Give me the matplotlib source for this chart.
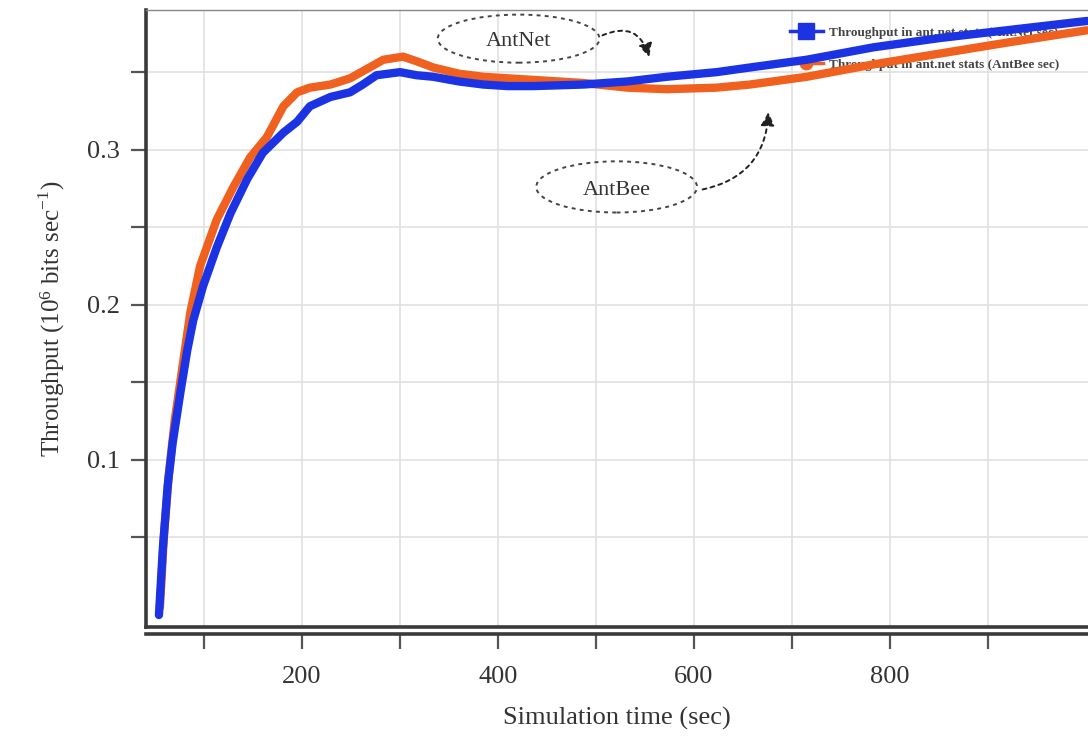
import matplotlib
matplotlib.use("Agg")
import matplotlib.pyplot as plt
from matplotlib.patches import Ellipse
from matplotlib.lines import Line2D

plt.rcParams["font.family"] = ["Liberation Serif", "DejaVu Serif"]

# values (time in sec, throughput in 10^6 bits/sec)
t_antnet = [54, 58, 63, 68, 76, 83, 89, 99, 113, 127, 144, 160, 181, 195, 208, 229,
            249, 262, 276, 300, 317, 334, 360, 385, 410, 436, 487, 532, 572, 623, 657,
            715, 783, 851, 919, 1001]
antnet = [0.0, 0.043, 0.084, 0.111, 0.144, 0.171, 0.190, 0.212, 0.237, 0.259, 0.281,
          0.298, 0.311, 0.318, 0.328, 0.334, 0.337, 0.342, 0.348, 0.350, 0.348, 0.347,
          0.344, 0.342, 0.341, 0.341, 0.342, 0.344, 0.347, 0.350, 0.353, 0.358, 0.366,
          0.372, 0.377, 0.383]

t_antbee = [55, 59, 64, 70, 78, 86, 96, 113, 130, 147, 164, 181, 195, 208, 229, 249,
            266, 283, 303, 317, 334, 360, 385, 436, 487, 532, 572, 623, 657, 715, 783,
            851, 919, 1001]
antbee = [0.005, 0.05, 0.09, 0.125, 0.16, 0.195, 0.225, 0.255, 0.276, 0.295, 0.308,
          0.328, 0.337, 0.340, 0.342, 0.346, 0.352, 0.358, 0.360, 0.357, 0.353, 0.349,
          0.347, 0.345, 0.343, 0.340, 0.339, 0.340, 0.342, 0.347, 0.355, 0.362, 0.369,
          0.377]

legend_labels = ["Throughput in ant.net stats (AntNet sec)",
                 "Throughput in ant.net stats (AntBee sec)"]

x_major = [200, 400, 600, 800]
x_minor = [100, 300, 500, 700, 900]
y_major = [0.1, 0.2, 0.3]
y_minor = [0.05, 0.15, 0.25, 0.35]

BLUE = "#1c33e4"
ORANGE = "#f0601e"
INK = "#333333"

fig = plt.figure(figsize=(10.88, 7.37), dpi=100)
ax = fig.add_axes([0.1342, 0.1493, 0.8658, 0.837])

ax.plot(t_antbee, antbee, color=ORANGE, lw=6, solid_capstyle="round",
        solid_joinstyle="round", zorder=3)
ax.plot(t_antnet, antnet, color=BLUE, lw=6, solid_capstyle="round",
        solid_joinstyle="round", zorder=4)

ax.set_xlim(40.8, 1002)
ax.set_ylim(-0.0077, 0.390)

ax.set_xticks(x_major)
ax.set_xticks(x_minor, minor=True)
ax.set_yticks(y_major)
ax.set_yticks(y_minor, minor=True)
ax.set_yticklabels(["0.1", "0.2", "0.3"])
ax.grid(True, which="both", color="#e0e0e0", lw=1.2, zorder=0)

ax.tick_params(axis="both", which="both", direction="out", length=11, width=1.6,
               color="#555555", labelsize=19, labelcolor=INK)
ax.tick_params(axis="x", which="both", pad=12)
ax.tick_params(axis="y", which="both", pad=8)

for s in ["left", "bottom"]:
    ax.spines[s].set_linewidth(2.6)
    ax.spines[s].set_color("#3a3a3a")
ax.spines["bottom"].set_position(("outward", 5))
ax.spines["right"].set_visible(False)
ax.spines["top"].set_color("#888888")
ax.spines["top"].set_linewidth(1.0)
# inner frame line of the plot box
ax.add_line(Line2D([0, 1], [0, 0], transform=ax.transAxes, color="#3a3a3a",
                   lw=2.6, clip_on=False, zorder=5))

ax.set_xlabel("Simulation time (sec)", fontsize=19, color=INK, labelpad=14)
ax.set_ylabel("Throughput ($\\mathregular{10^6}$ bits sec$^{\\mathregular{-1}}$)",
              fontsize=18, color=INK, labelpad=14)

# legend at the top right, no frame, sits under the curves
handles = [Line2D([], [], color=BLUE, lw=2.5, marker="s", markersize=11),
           Line2D([], [], color=ORANGE, lw=2.5, marker="o", markersize=9)]
leg = ax.legend(handles, legend_labels, loc="upper left", bbox_to_anchor=(0.671, 0.993),
                frameon=False, handlelength=2.5, handletextpad=0.45, labelspacing=1.5,
                prop={"size": 9.5, "weight": "bold"})
for txt in leg.get_texts():
    txt.set_color("#444444")
leg.set_zorder(2)

# dashed callouts
for (cx, cy, w, h, label) in [(421, 0.3716, 165, 0.031, "AntNet"),
                              (521, 0.2760, 164, 0.033, "AntBee")]:
    ax.add_patch(Ellipse((cx, cy), w, h, fill=False, ec="#444444", lw=1.4,
                         ls=(0, (2, 2.2)), zorder=6))
    ax.text(cx, cy - 0.002, label, ha="center", va="center", fontsize=16,
            color="#333333", zorder=6)

ax.annotate("", xy=(555, 0.358), xytext=(504, 0.373),
            arrowprops=dict(arrowstyle="-|>", color="#222222", lw=1.4,
                            ls=(0, (2, 2.2)), mutation_scale=20,
                            connectionstyle="arc3,rad=-0.6"), zorder=6)
ax.annotate("", xy=(676, 0.326), xytext=(606, 0.274),
            arrowprops=dict(arrowstyle="-|>", color="#222222", lw=1.4,
                            ls=(0, (2, 2.2)), mutation_scale=20,
                            connectionstyle="arc3,rad=0.4"), zorder=6)

plt.savefig("out.png", dpi=100)
plt.close()
